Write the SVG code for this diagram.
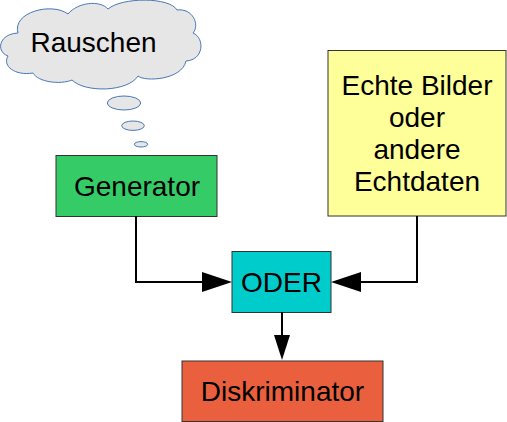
<svg xmlns="http://www.w3.org/2000/svg" width="507" height="422" viewBox="0 0 507 422">
<style>
  .box{stroke:#333333;stroke-width:1}
  .lbl{font-family:"Liberation Sans",Arial,sans-serif;font-size:28px;fill:#000000;text-anchor:middle}
  .wire{fill:none;stroke:#000000;stroke-width:2}
  .head{fill:#000000;stroke:none}
  .cloud{fill:#e6e6e6;stroke:#4a78b5;stroke-width:1}
</style>
<rect width="507" height="422" fill="#ffffff"/>
<g id="rauschen">
  <path class="cloud" d="M 18,33 C 12,12 52,2 68,14 C 78,2 100,0 108,9 C 122,-3 170,-3 177,10 C 193,8 200,25 193,33 C 205,38 204,60 186,61 C 182,80 145,82 138,76 C 128,92 85,93 72,80 C 60,85 38,82 33,73 C 15,76 2,66 8,56 C -4,52 -2,34 18,33 Z"/>
  <ellipse class="cloud" cx="124" cy="103" rx="16.7" ry="7"/>
  <ellipse class="cloud" cx="133" cy="125.7" rx="11.3" ry="4.7"/>
  <ellipse class="cloud" cx="141" cy="144.3" rx="6.7" ry="2.7"/>
  <text class="lbl" x="93.5" y="52">Rauschen</text>
</g>
<g id="generator">
  <rect class="box" x="56" y="155.5" width="161" height="61" fill="#35cc68"/>
  <text class="lbl" x="137" y="196">Generator</text>
</g>
<g id="echtdaten">
  <rect class="box" x="328" y="50.5" width="178" height="165.5" fill="#ffff99"/>
  <text class="lbl" x="417" y="95">Echte Bilder</text>
  <text class="lbl" x="417" y="127">oder</text>
  <text class="lbl" x="417" y="159">andere</text>
  <text class="lbl" x="417" y="191">Echtdaten</text>
</g>
<g id="oder">
  <rect class="box" x="232" y="251.5" width="99" height="61" fill="#00cccc"/>
  <text class="lbl" x="281.5" y="292">ODER</text>
</g>
<g id="diskriminator">
  <rect class="box" x="182" y="361" width="201" height="60.5" fill="#ea603e"/>
  <text class="lbl" x="282.5" y="401">Diskriminator</text>
</g>
<g id="connectors">
  <path class="wire" d="M 136,216 V 282 H 203"/>
  <polygon class="head" points="202,272 232,282 202,292"/>
  <path class="wire" d="M 417,216 V 282 H 360"/>
  <polygon class="head" points="361,272 331,282 361,292"/>
  <path class="wire" d="M 282,312 V 336"/>
  <polygon class="head" points="274,335 290,335 282,360"/>
</g>
</svg>
